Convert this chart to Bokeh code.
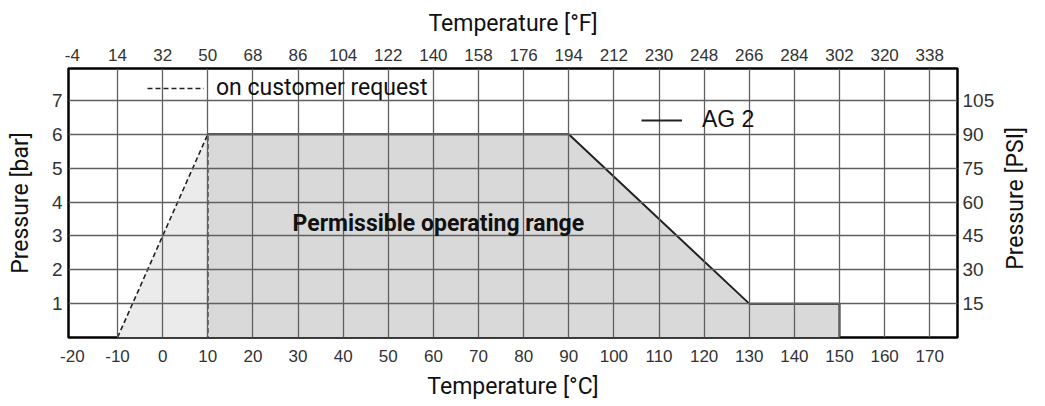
import math
from bokeh.plotting import figure
from bokeh.models import (Range1d, LinearAxis, FixedTicker, Label, Legend, LegendItem)
from bokeh.embed import file_html
from bokeh.resources import INLINE

# ---- data ----
temp_c_ag2 = [10, 90, 130, 150, 150]
pressure_ag2 = [6, 6, 1, 1, 0]
temp_c_custom = [-10, 10, 10]
pressure_custom = [0, 6, 0]
c_ticks = [-20, -10, 0, 10, 20, 30, 40, 50, 60, 70, 80, 90, 100, 110, 120, 130, 140, 150, 160, 170]
f_ticks = [-4, 14, 32, 50, 68, 86, 104, 122, 140, 158, 176, 194, 212, 230, 248, 266, 284, 302, 320, 338]
bar_ticks = [1, 2, 3, 4, 5, 6, 7]
psi_labels = ["15", "30", "45", "60", "75", "90", "105"]
grid_c = [-10, 0, 10, 20, 30, 40, 50, 60, 70, 80, 90, 100, 110, 120, 130, 140, 150, 160, 170]

X0, X1 = -20.86, 176.15
Y0, Y1 = 0, 7.945

p = figure(width=1045, height=406, output_backend="svg", toolbar_location=None,
           x_range=Range1d(X0, X1), y_range=Range1d(Y0, Y1),
           x_axis_location="below", y_axis_location="left")
p.min_border_left = 68
p.min_border_right = 88
p.min_border_top = 68
p.min_border_bottom = 69
p.background_fill_color = "white"
p.border_fill_color = "white"
p.outline_line_color = "black"
p.outline_line_width = 2.5

# fills
p.patch(x=temp_c_custom, y=pressure_custom, fill_color="#ebebeb", line_color=None)
p.patch(x=[temp_c_ag2[0]] + temp_c_ag2 + [temp_c_ag2[0]],
        y=[0] + pressure_ag2 + [0], fill_color="#d9d9d9", line_color=None)

# grid
p.xgrid.ticker = FixedTicker(ticks=grid_c)
p.ygrid.ticker = FixedTicker(ticks=bar_ticks)
for g in (p.xgrid, p.ygrid):
    g.grid_line_color = "#606060"
    g.grid_line_width = 1.3
    g.level = "glyph"

# lines
r_custom = p.line(temp_c_custom, pressure_custom, line_color="#222222", line_width=1.6, line_dash="5 3")
r_ag2 = p.line(temp_c_ag2, pressure_ag2, line_color="#222222", line_width=2)

TICK_FONT = "Liberation Sans"
TITLE_FONT = "Roboto"

def style(ax, size):
    ax.axis_line_color = None
    ax.major_tick_line_color = None
    ax.minor_tick_line_color = None
    ax.major_tick_out = 0
    ax.major_tick_in = 0
    ax.minor_tick_out = 0
    ax.minor_tick_in = 0
    ax.major_label_text_font = TICK_FONT
    ax.major_label_text_font_size = size
    ax.major_label_text_color = "#333333"
    ax.axis_label_text_font = TITLE_FONT
    ax.axis_label_text_font_size = "23px"
    ax.axis_label_text_font_style = "normal"
    ax.axis_label_text_color = "#111111"

def hyphen(v):
    return str(v).replace("\u2212", "-")

xb = p.xaxis[0]
xb.ticker = FixedTicker(ticks=c_ticks)
xb.major_label_overrides = {t: hyphen(t) for t in c_ticks}
xb.axis_label = "Temperature [°C]"
style(xb, "17px")
xb.major_label_standoff = 12
xb.axis_label_standoff = 8

yl = p.yaxis[0]
yl.ticker = FixedTicker(ticks=bar_ticks)
yl.axis_label = "Pressure [bar]"
style(yl, "19px")
yl.major_label_standoff = 6
yl.axis_label_standoff = 15

p.extra_x_ranges = {"F": Range1d(X0 * 1.8 + 32, X1 * 1.8 + 32)}
xt = LinearAxis(x_range_name="F", ticker=FixedTicker(ticks=f_ticks),
                major_label_overrides={t: hyphen(t) for t in f_ticks},
                axis_label="Temperature [°F]")
style(xt, "17px")
xt.major_label_standoff = 8
xt.axis_label_standoff = 9
p.add_layout(xt, "above")

yr = LinearAxis(ticker=FixedTicker(ticks=bar_ticks),
                major_label_overrides={t: s for t, s in zip(bar_ticks, psi_labels)})
style(yr, "19px")
yr.major_label_standoff = 5
p.add_layout(yr, "right")

# right-hand title, reading bottom to top (drawn as the single label of an outer axis)
psi_title_pos = [2]
yr2 = LinearAxis(ticker=FixedTicker(ticks=psi_title_pos),
                 major_label_overrides={2: "Pressure [PSI]"},
                 major_label_orientation=math.pi / 2)
style(yr2, "23px")
yr2.major_label_text_font = TITLE_FONT
yr2.major_label_text_color = "#111111"
yr2.major_label_standoff = 18
p.add_layout(yr2, "right")

# legends
leg1 = Legend(items=[LegendItem(label="on customer request", renderers=[r_custom])],
              location=(79, 236), glyph_width=57, glyph_height=22, label_standoff=12,
              label_text_font=TITLE_FONT, label_text_font_size="23px", label_text_color="#111111",
              padding=0, margin=0, border_line_color=None, background_fill_alpha=0)
leg2 = Legend(items=[LegendItem(label="AG 2", renderers=[r_ag2])],
              location=(573, 204), glyph_width=41, glyph_height=22, label_standoff=20,
              label_text_font="Liberation Sans", label_text_font_size="23px", label_text_color="#111111",
              padding=0, margin=0, border_line_color=None, background_fill_alpha=0)
p.add_layout(leg1, "center")
p.add_layout(leg2, "center")

p.add_layout(Label(x=61.1, y=3.37, text="Permissible operating range", text_align="center",
                   text_baseline="middle", text_font=TITLE_FONT, text_font_size="23px",
                   text_font_style="bold", text_color="#111111"))

open("out.html", "w").write(file_html(p, INLINE))
